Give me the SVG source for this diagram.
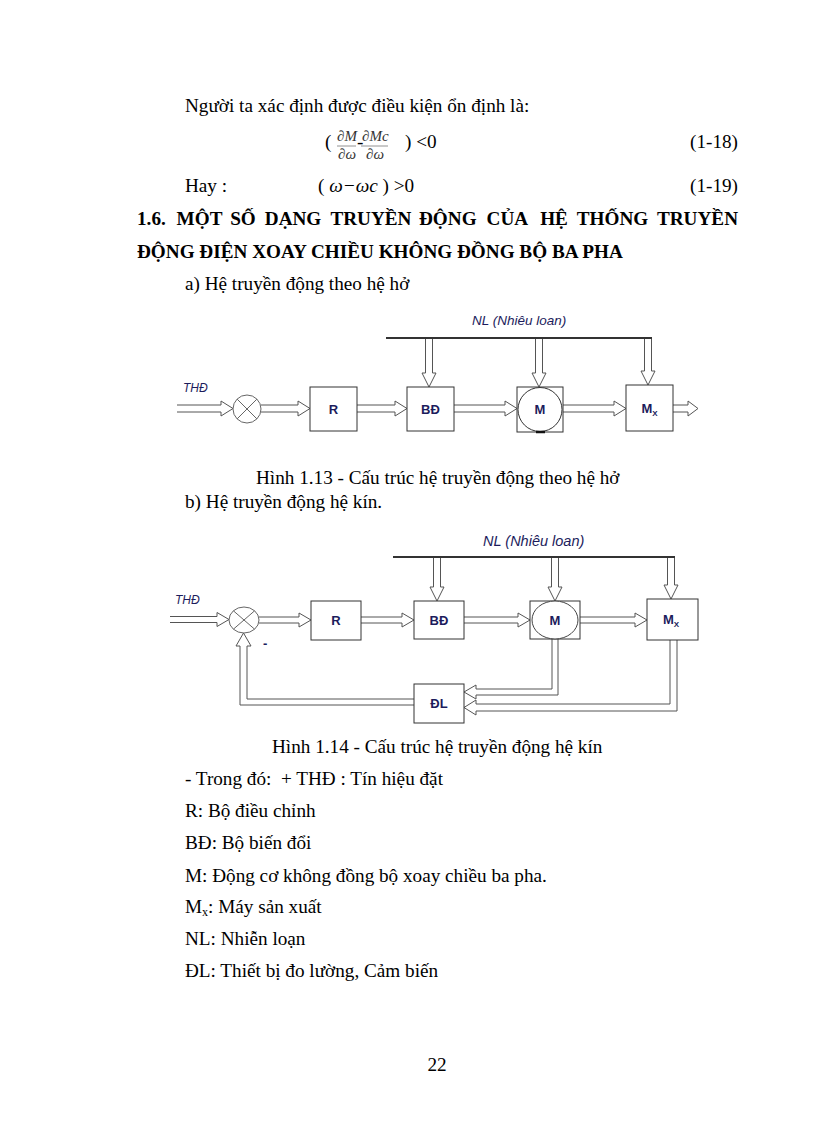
<svg xmlns="http://www.w3.org/2000/svg" width="816" height="1123" viewBox="0 0 816 1123">
<style>
.t{font-family:"Liberation Serif","Times New Roman",serif;font-size:19.2px;fill:#000;white-space:pre}
.h{font-family:"Liberation Serif","Times New Roman",serif;font-size:19.2px;font-weight:bold;fill:#000}
.fi{font-family:"Liberation Serif","Times New Roman",serif;font-style:italic;font-size:15px;fill:#333}
.lb{font-family:"Liberation Sans",Arial,sans-serif;font-weight:bold;font-size:13px;fill:#1c1c5c;text-anchor:middle}
.it{font-family:"Liberation Sans",Arial,sans-serif;font-style:italic;font-size:12px;fill:#1c1c5c}
.box{fill:#fff;stroke:#333;stroke-width:1}
.ar{fill:#fff;stroke:#555;stroke-width:1}
.nl{stroke:#333;stroke-width:2;fill:none}
.x{stroke:#666;stroke-width:1;fill:none}
</style>
<rect width="816" height="1123" fill="#fff"/>

<!-- top text -->
<text class="t" x="185" y="112">Người ta xác định được điều kiện ổn định là:</text>
<g id="formula1">
<text class="t" x="325" y="148">(</text>
<text class="fi" x="337" y="141">∂M</text>
<line x1="337" y1="146" x2="356" y2="146" stroke="#777" stroke-width="0.8"/>
<text class="fi" x="338" y="159">∂ω</text>
<text class="t" x="357" y="148">-</text>
<text class="fi" x="362" y="141">∂Mc</text>
<line x1="361" y1="146" x2="388" y2="146" stroke="#777" stroke-width="0.8"/>
<text class="fi" x="366" y="159">∂ω</text>
<text class="t" x="405" y="148">) &lt;0</text>
</g>
<text class="t" x="738" y="148" text-anchor="end">(1-18)</text>
<text class="t" x="185" y="192">Hay :</text>
<text class="t" x="318" y="192">( <tspan font-style="italic">ω−ωc</tspan> ) &gt;0</text>
<text class="t" x="738" y="192" text-anchor="end">(1-19)</text>

<text class="h" y="225"><tspan x="137">1.6.</tspan><tspan x="176.6">MỘT</tspan><tspan x="230.2">SỐ</tspan><tspan x="264.8">DẠNG</tspan><tspan x="330.4">TRUYỀN</tspan><tspan x="419">ĐỘNG</tspan><tspan x="486.6">CỦA</tspan><tspan x="540.2">HỆ</tspan><tspan x="576.8">THỐNG</tspan></text>
<text class="h" x="738" y="225" text-anchor="end">TRUYỀN</text>
<text class="h" x="137" y="258">ĐỘNG ĐIỆN XOAY CHIỀU KHÔNG ĐỒNG BỘ BA PHA</text>
<text class="t" x="185" y="290">a) Hệ truyền động theo hệ hở</text>

<!-- Diagram 1 -->
<g id="d1-connectors">
<line class="nl" x1="386" y1="338" x2="652" y2="338"/>
<path class="ar" d="M177,405 H221 V401 L233,408.5 L221,416 V412 H177"/>
<path class="ar" d="M261,405 H298 V401 L310,408.5 L298,416 V412 H261"/>
<path class="ar" d="M357,405 H395 V401 L407,408.5 L395,416 V412 H357"/>
<path class="ar" d="M454,405 H505 V401 L517,408.5 L505,416 V412 H454"/>
<path class="ar" d="M563,405 H614 V401 L626,408.5 L614,416 V412 H563"/>
<path class="ar" d="M673,405 H688 V401 L698,408.5 L688,416 V412 H673"/>
<path class="ar" d="M425.5,339 V373 H422 L429,387 L436,373 H432.5 V339"/>
<path class="ar" d="M535.5,339 V373 H532 L539,387 L546,373 H542.5 V339"/>
<path class="ar" d="M644.5,339 V371 H641 L648,385 L655,371 H651.5 V339"/>
</g>
<text class="it" x="183" y="392">THĐ</text>
<text class="it" x="472" y="325" style="font-size:13.5px">NL (Nhiêu loan)</text>
<g id="d1-sum">
<circle cx="247" cy="409" r="14" fill="#fff" stroke="#666"/>
<line class="x" x1="237.1" y1="399.1" x2="256.9" y2="418.9"/>
<line class="x" x1="256.9" y1="399.1" x2="237.1" y2="418.9"/>
</g>
<g id="d1-R"><rect class="box" x="310" y="387" width="47" height="44"/><text class="lb" x="333.5" y="414">R</text></g>
<g id="d1-BD"><rect class="box" x="407" y="387" width="47" height="44"/><text class="lb" x="430.5" y="414">BĐ</text></g>
<g id="d1-M"><rect class="box" x="517" y="387" width="46" height="45"/><ellipse cx="540" cy="409.5" rx="22" ry="22" fill="#fff" stroke="#333"/><line x1="536" y1="432" x2="545" y2="432" stroke="#111" stroke-width="2.5"/><text class="lb" x="540" y="414">M</text></g>
<g id="d1-Mx"><rect class="box" x="626" y="385" width="47" height="46"/><text class="lb" x="649.5" y="413">M<tspan font-size="8" dy="3">X</tspan></text></g>

<text class="t" x="256" y="484">Hình 1.13 - Cấu trúc hệ truyền động theo hệ hở</text>
<text class="t" x="185" y="508">b) Hệ truyền động hệ kín.</text>

<!-- Diagram 2 -->
<g id="d2-connectors">
<line class="nl" x1="393" y1="557" x2="675" y2="557" stroke-width="1.5"/>
<path class="ar" d="M170,616.5 H217 V612.5 L229,619.5 L217,626.5 V622.5 H170"/>
<path class="ar" d="M259,617 H299 V613 L311,620 L299,627 V623 H259"/>
<path class="ar" d="M361,617 H402 V613 L414,620 L402,627 V623 H361"/>
<path class="ar" d="M464,617 H518 V613 L530,620 L518,627 V623 H464"/>
<path class="ar" d="M580,617 H635 V613 L647,620 L635,627 V623 H580"/>
<path class="ar" d="M433.5,558 V587 H430 L437,601 L444,587 H440.5 V558"/>
<path class="ar" d="M551.5,558 V587 H548 L555,601 L562,587 H558.5 V558"/>
<path class="ar" d="M667.5,558 V585 H664 L671,599 L678,585 H674.5 V558"/>
<path class="ar" d="M558,639 V695 H476 V699 L464,692 L476,685 V689 H552 V639"/>
<path class="ar" d="M677,640 V711 H476 V715 L464,707.5 L476,700 V704 H670 V640"/>
<path class="ar" d="M414,705 H240 V646 H236 L243.5,633 L251,646 H247 V699 H414"/>
</g>
<text class="it" x="175" y="604">THĐ</text>
<text class="it" x="483" y="546" style="font-size:14.5px">NL (Nhiêu loan)</text>
<text class="it" x="263" y="648" style="font-style:normal;font-weight:bold;font-size:13px">-</text>
<g id="d2-sum">
<ellipse cx="244" cy="620" rx="15" ry="13" fill="#fff" stroke="#666"/>
<line class="x" x1="233.4" y1="610.8" x2="254.6" y2="629.2"/>
<line class="x" x1="254.6" y1="610.8" x2="233.4" y2="629.2"/>
</g>
<g id="d2-R"><rect class="box" x="311" y="601" width="50" height="39" stroke="#666"/><text class="lb" x="336" y="625">R</text></g>
<g id="d2-BD"><rect class="box" x="414" y="601" width="50" height="38"/><text class="lb" x="439" y="625">BĐ</text></g>
<g id="d2-M"><rect class="box" x="530" y="601" width="50" height="38" stroke="#666"/><ellipse cx="555" cy="620" rx="23" ry="19" fill="#fff" stroke="#444"/><text class="lb" x="555" y="625">M</text></g>
<g id="d2-Mx"><rect class="box" x="647" y="599" width="51" height="41"/><text class="lb" x="671" y="624">M<tspan font-size="8" dy="3">X</tspan></text></g>
<g id="d2-DL"><rect class="box" x="414" y="684" width="50" height="39"/><text class="lb" x="439" y="708">ĐL</text></g>

<text class="t" x="272" y="753">Hình 1.14 - Cấu trúc hệ truyền động hệ kín</text>
<text class="t" x="185" y="785">- Trong đó:  + THĐ : Tín hiệu đặt</text>
<text class="t" x="185" y="817">R: Bộ điều chỉnh</text>
<text class="t" x="185" y="849">BĐ: Bộ biến đổi</text>
<text class="t" x="185" y="882">M: Động cơ không đồng bộ xoay chiều ba pha.</text>
<text class="t" x="185" y="913">M<tspan font-size="12" dy="3">x</tspan><tspan dy="-3">: Máy sản xuất</tspan></text>
<text class="t" x="185" y="945">NL: Nhiễn loạn</text>
<text class="t" x="185" y="977">ĐL: Thiết bị đo lường, Cảm biến</text>
<text class="t" x="437" y="1071" text-anchor="middle">22</text>
</svg>
